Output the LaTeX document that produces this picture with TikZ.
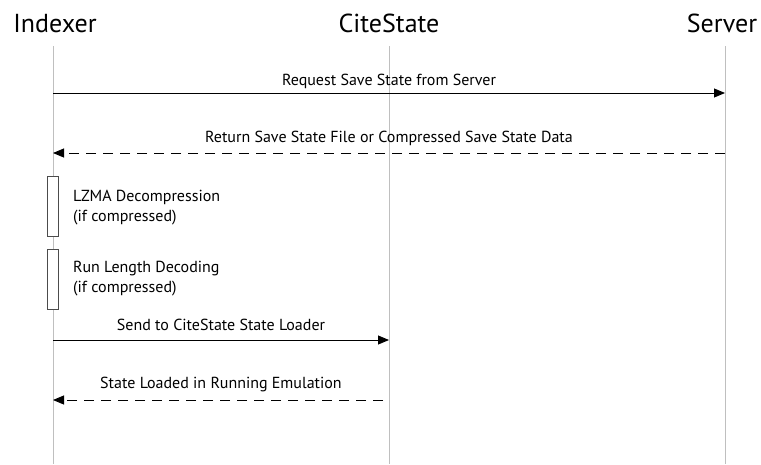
\documentclass[tikz,border=0pt]{standalone}
\usepackage{fontspec}
\setmainfont{PT Sans}
\usetikzlibrary{arrows.meta}
\begin{document}
\begin{tikzpicture}[x=1pt,y=-1pt,
  life/.style={draw=black!25, line width=0.8pt},
  head/.style={font=\fontsize{26}{30}\selectfont, inner sep=0pt, anchor=base},
  lbl/.style={font=\fontsize{16}{19}\selectfont, inner sep=0pt, anchor=base},
  msg/.style={line width=0.9pt, -{Triangle[length=11pt,width=9pt]}},
  ret/.style={msg, dash pattern=on 10pt off 7pt},
  actbox/.style={draw=black!70, line width=0.8pt, fill=white, minimum width=11pt, inner sep=0pt},
  note/.style={font=\fontsize{16}{20}\selectfont, inner sep=0pt, anchor=north west, align=left}]
\useasboundingbox (0,0) rectangle (761,464);
\node[head] (hI) at (55,32) {Indexer};
\node[head] (hC) at (389,32) {CiteState};
\node[head] (hS) at (722,32) {Server};
\coordinate (Itop) at (53,46); \coordinate (Ibot) at (53,464);
\coordinate (Ctop) at (389,46); \coordinate (Cbot) at (389,464);
\coordinate (Stop) at (725,46); \coordinate (Sbot) at (725,464);
\draw[life] (Itop) -- (Ibot);
\draw[life] (Ctop) -- (Cbot);
\draw[life] (Stop) -- (Sbot);
% messages
\coordinate (m1a) at (53,93); \coordinate (m1b) at (725,93);
\draw[msg] (m1a) -- (m1b);
\node[lbl] (l1) at (389,85) {Request Save State from Server};
\coordinate (m2a) at (725,153); \coordinate (m2b) at (53,153);
\draw[ret] (m2a) -- (m2b);
\node[lbl] (l2) at (389,142) {Return Save State File or Compressed Save State Data};
% activations
\node[actbox, minimum height=60pt] (a1) at (53,206) {};
\node[note] (n1) at (73,190) {LZMA Decompression\\(if compressed)};
\node[actbox, minimum height=60pt] (a2) at (53,279) {};
\node[note] (n2) at (73,261) {Run Length Decoding\\(if compressed)};
\coordinate (m3a) at (53,340); \coordinate (m3b) at (389,340);
\draw[msg] (m3a) -- (m3b);
\node[lbl] (l3) at (221,330) {Send to CiteState State Loader};
\coordinate (m4a) at (383,400); \coordinate (m4b) at (53,400);
\draw[ret] (m4a) -- (m4b);
\node[lbl] (l4) at (221,388) {State Loaded in Running Emulation};
\end{tikzpicture}
\end{document}
